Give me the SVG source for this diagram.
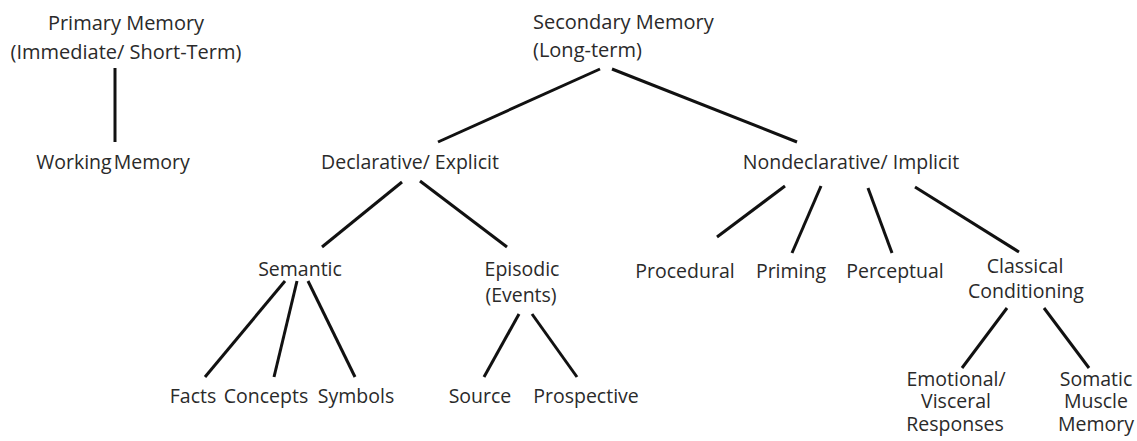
<svg xmlns="http://www.w3.org/2000/svg" width="1137" height="441" viewBox="0 0 1137 441">
<style>
text{font-family:"Open Sans","Liberation Sans",sans-serif;font-size:19.5px;fill:#2a2a2a;text-anchor:middle}
.t{font-size:20px}
.l{text-anchor:start}
#connectors line{stroke:#111;stroke-width:3;stroke-linecap:butt}
</style>
<rect width="1137" height="441" fill="#fff"/>
<g id="connectors">
<line x1="115" y1="68" x2="115" y2="142"/>
<line x1="600" y1="69" x2="438" y2="142"/>
<line x1="612" y1="69" x2="797" y2="142"/>
<line x1="402" y1="182" x2="322" y2="247"/>
<line x1="420" y1="181" x2="507" y2="247"/>
<line x1="285" y1="281" x2="205" y2="377"/>
<line x1="297" y1="281" x2="274" y2="377"/>
<line x1="308" y1="281" x2="355" y2="377"/>
<line x1="519" y1="314" x2="484" y2="377"/>
<line x1="532" y1="314" x2="577" y2="377"/>
<line x1="785" y1="186" x2="717" y2="237"/>
<line x1="821" y1="186" x2="792" y2="253"/>
<line x1="868" y1="188" x2="892" y2="253"/>
<line x1="915" y1="187" x2="1019" y2="252"/>
<line x1="1007" y1="308" x2="962" y2="368"/>
<line x1="1044" y1="308" x2="1089" y2="368"/>
</g>
<g id="primary"><text class="t" x="126" y="30">Primary Memory</text><text class="t" x="126" y="59">(Immediate/ Short-Term)</text></g>
<g id="working"><text x="113" y="169" word-spacing="-3">Working Memory</text></g>
<g id="secondary"><text class="t l" x="533" y="29">Secondary Memory</text><text class="t l" x="533" y="57">(Long-term)</text></g>
<g id="declarative"><text x="410" y="169">Declarative/ Explicit</text></g>
<g id="nondeclarative"><text x="851" y="169">Nondeclarative/ Implicit</text></g>
<g id="semantic"><text x="300" y="276">Semantic</text></g>
<g id="episodic"><text x="522" y="276">Episodic</text><text x="521" y="302">(Events)</text></g>
<g id="facts"><text x="193" y="403">Facts</text></g>
<g id="concepts"><text x="266" y="403">Concepts</text></g>
<g id="symbols"><text x="356" y="403">Symbols</text></g>
<g id="source"><text x="480" y="403">Source</text></g>
<g id="prospective"><text x="586" y="403">Prospective</text></g>
<g id="procedural"><text x="685" y="278">Procedural</text></g>
<g id="priming"><text x="791" y="278">Priming</text></g>
<g id="perceptual"><text x="895" y="278">Perceptual</text></g>
<g id="classical"><text x="1025" y="273">Classical</text><text x="1026" y="298">Conditioning</text></g>
<g id="emotional"><text x="956" y="386">Emotional/</text><text x="956" y="408">Visceral</text><text x="955" y="431">Responses</text></g>
<g id="somatic"><text x="1096" y="386">Somatic</text><text x="1096" y="408">Muscle</text><text x="1096" y="431">Memory</text></g>
</svg>
